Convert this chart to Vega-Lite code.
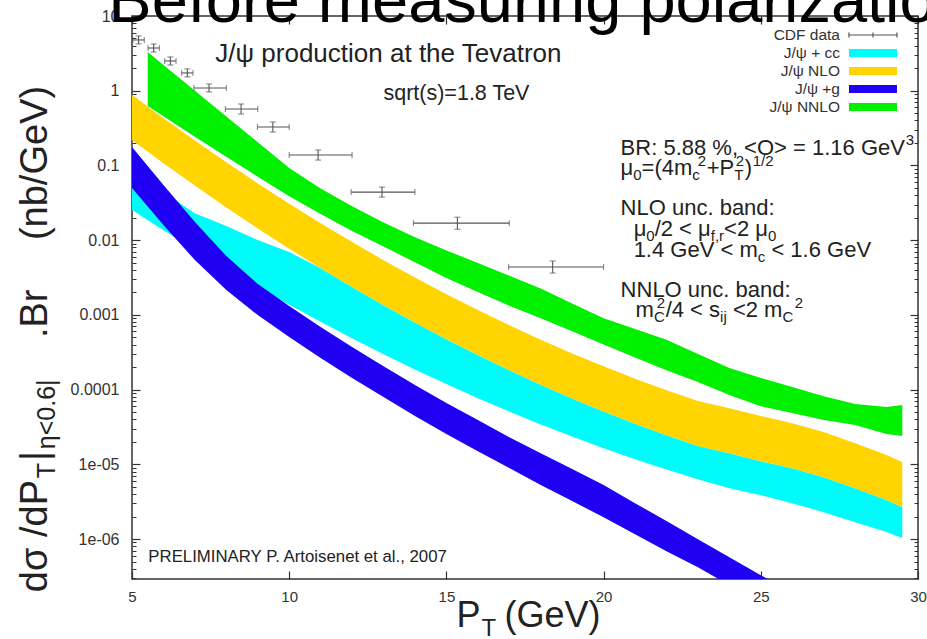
{
  "$schema": "https://vega.github.io/schema/vega-lite/v6.json",
  "width": 786,
  "height": 563,
  "autosize": {"type": "none"},
  "padding": {"left": 132, "top": 16, "right": 9, "bottom": 60},
  "background": "white",
  "config": {
    "view": {"stroke": "#333333", "strokeWidth": 1.5},
    "font": "Liberation Sans",
    "axis": {"grid": false, "domain": false, "title": null, "labelFont": "Liberation Sans", "labelColor": "#333333", "labelFontSize": 15, "tickColor": "#333333", "tickWidth": 1.2, "labelFlush": false, "labelOverlap": false, "labelBound": false}
  },
  "datasets": {
    "bands": [
      {"s": "J/ψ + cc", "pt": 5, "hi": 0.0816, "lo": 0.0253},
      {"s": "J/ψ + cc", "pt": 6, "hi": 0.04405, "lo": 0.0136},
      {"s": "J/ψ + cc", "pt": 7, "hi": 0.02298, "lo": 0.00744},
      {"s": "J/ψ + cc", "pt": 8, "hi": 0.01544, "lo": 0.00414},
      {"s": "J/ψ + cc", "pt": 9, "hi": 0.01003, "lo": 0.00236},
      {"s": "J/ψ + cc", "pt": 10, "hi": 0.00693, "lo": 0.00137},
      {"s": "J/ψ + cc", "pt": 10.5, "hi": 0.005415, "lo": 0.00105},
      {"s": "J/ψ + cc", "pt": 11, "hi": 0.0042, "lo": 0.000808},
      {"s": "J/ψ + cc", "pt": 12, "hi": 0.002356, "lo": 0.000486},
      {"s": "J/ψ + cc", "pt": 13, "hi": 0.00135, "lo": 0.000298},
      {"s": "J/ψ + cc", "pt": 14, "hi": 0.000789, "lo": 0.000186},
      {"s": "J/ψ + cc", "pt": 15, "hi": 0.000472, "lo": 0.000119},
      {"s": "J/ψ + cc", "pt": 16, "hi": 0.00029, "lo": 0.0000769},
      {"s": "J/ψ + cc", "pt": 17, "hi": 0.000181, "lo": 0.0000509},
      {"s": "J/ψ + cc", "pt": 18, "hi": 0.000116, "lo": 0.0000342},
      {"s": "J/ψ + cc", "pt": 19, "hi": 0.0000762, "lo": 0.0000235},
      {"s": "J/ψ + cc", "pt": 20, "hi": 0.0000511, "lo": 0.0000164},
      {"s": "J/ψ + cc", "pt": 21, "hi": 0.000035, "lo": 0.0000117},
      {"s": "J/ψ + cc", "pt": 22, "hi": 0.0000245, "lo": 0.00000852},
      {"s": "J/ψ + cc", "pt": 23, "hi": 0.0000176, "lo": 0.0000063},
      {"s": "J/ψ + cc", "pt": 24, "hi": 0.0000141, "lo": 0.0000048},
      {"s": "J/ψ + cc", "pt": 25, "hi": 0.000011, "lo": 0.00000387},
      {"s": "J/ψ + cc", "pt": 26, "hi": 0.00000889, "lo": 0.00000302},
      {"s": "J/ψ + cc", "pt": 27, "hi": 0.00000674, "lo": 0.00000229},
      {"s": "J/ψ + cc", "pt": 28, "hi": 0.0000048, "lo": 0.00000168},
      {"s": "J/ψ + cc", "pt": 29, "hi": 0.00000332, "lo": 0.00000124},
      {"s": "J/ψ + cc", "pt": 29.5, "hi": 0.00000267, "lo": 0.00000103},
      {"s": "J/ψ +g", "pt": 5, "hi": 0.176, "lo": 0.0498},
      {"s": "J/ψ +g", "pt": 6, "hi": 0.0547, "lo": 0.01592},
      {"s": "J/ψ +g", "pt": 7, "hi": 0.01747, "lo": 0.005415},
      {"s": "J/ψ +g", "pt": 8, "hi": 0.00612, "lo": 0.002148},
      {"s": "J/ψ +g", "pt": 9, "hi": 0.002584, "lo": 0.000994},
      {"s": "J/ψ +g", "pt": 10, "hi": 0.001311, "lo": 0.000504},
      {"s": "J/ψ +g", "pt": 11, "hi": 0.000687, "lo": 0.000264},
      {"s": "J/ψ +g", "pt": 12, "hi": 0.000371, "lo": 0.000143},
      {"s": "J/ψ +g", "pt": 13, "hi": 0.000206, "lo": 0.0000794},
      {"s": "J/ψ +g", "pt": 14, "hi": 0.000115, "lo": 0.0000442},
      {"s": "J/ψ +g", "pt": 15, "hi": 0.000066, "lo": 0.0000254},
      {"s": "J/ψ +g", "pt": 16, "hi": 0.0000391, "lo": 0.000015},
      {"s": "J/ψ +g", "pt": 17, "hi": 0.0000231, "lo": 0.0000089},
      {"s": "J/ψ +g", "pt": 18, "hi": 0.0000141, "lo": 0.00000527},
      {"s": "J/ψ +g", "pt": 19, "hi": 0.00000863, "lo": 0.00000322},
      {"s": "J/ψ +g", "pt": 20, "hi": 0.00000527, "lo": 0.00000196},
      {"s": "J/ψ +g", "pt": 21, "hi": 0.00000302, "lo": 0.00000116},
      {"s": "J/ψ +g", "pt": 22, "hi": 0.00000174, "lo": 0.000000689},
      {"s": "J/ψ +g", "pt": 23, "hi": 0.000000997, "lo": 0.000000421},
      {"s": "J/ψ +g", "pt": 24, "hi": 0.000000572, "lo": 0.000000241},
      {"s": "J/ψ +g", "pt": 25, "hi": 0.000000329, "lo": 0.000000139},
      {"s": "J/ψ +g", "pt": 25.5, "hi": 0.000000249, "lo": 0.000000105},
      {"s": "J/ψ NLO", "pt": 5, "hi": 0.876, "lo": 0.219},
      {"s": "J/ψ NLO", "pt": 6, "hi": 0.428, "lo": 0.107},
      {"s": "J/ψ NLO", "pt": 7, "hi": 0.215, "lo": 0.0537},
      {"s": "J/ψ NLO", "pt": 8, "hi": 0.11, "lo": 0.0274},
      {"s": "J/ψ NLO", "pt": 9, "hi": 0.0574, "lo": 0.01434},
      {"s": "J/ψ NLO", "pt": 10, "hi": 0.0307, "lo": 0.00767},
      {"s": "J/ψ NLO", "pt": 11, "hi": 0.0168, "lo": 0.0042},
      {"s": "J/ψ NLO", "pt": 12, "hi": 0.00943, "lo": 0.002356},
      {"s": "J/ψ NLO", "pt": 13, "hi": 0.0054, "lo": 0.00135},
      {"s": "J/ψ NLO", "pt": 14, "hi": 0.00316, "lo": 0.000789},
      {"s": "J/ψ NLO", "pt": 15, "hi": 0.00189, "lo": 0.000472},
      {"s": "J/ψ NLO", "pt": 16, "hi": 0.00116, "lo": 0.00029},
      {"s": "J/ψ NLO", "pt": 17, "hi": 0.000726, "lo": 0.000181},
      {"s": "J/ψ NLO", "pt": 18, "hi": 0.000464, "lo": 0.000116},
      {"s": "J/ψ NLO", "pt": 19, "hi": 0.000305, "lo": 0.0000762},
      {"s": "J/ψ NLO", "pt": 20, "hi": 0.000205, "lo": 0.0000511},
      {"s": "J/ψ NLO", "pt": 21, "hi": 0.00014, "lo": 0.000035},
      {"s": "J/ψ NLO", "pt": 22, "hi": 0.0000982, "lo": 0.0000245},
      {"s": "J/ψ NLO", "pt": 23, "hi": 0.0000706, "lo": 0.0000176},
      {"s": "J/ψ NLO", "pt": 24, "hi": 0.0000565, "lo": 0.0000141},
      {"s": "J/ψ NLO", "pt": 25, "hi": 0.0000442, "lo": 0.000011},
      {"s": "J/ψ NLO", "pt": 26, "hi": 0.0000356, "lo": 0.00000889},
      {"s": "J/ψ NLO", "pt": 27, "hi": 0.000027, "lo": 0.00000674},
      {"s": "J/ψ NLO", "pt": 28, "hi": 0.0000192, "lo": 0.0000048},
      {"s": "J/ψ NLO", "pt": 29, "hi": 0.0000133, "lo": 0.00000332},
      {"s": "J/ψ NLO", "pt": 29.5, "hi": 0.0000107, "lo": 0.00000267},
      {"s": "J/ψ NNLO", "pt": 5.5, "hi": 3.3, "lo": 0.624},
      {"s": "J/ψ NNLO", "pt": 6, "hi": 2.215, "lo": 0.454},
      {"s": "J/ψ NNLO", "pt": 7, "hi": 1.003, "lo": 0.243},
      {"s": "J/ψ NNLO", "pt": 8, "hi": 0.453, "lo": 0.131},
      {"s": "J/ψ NNLO", "pt": 9, "hi": 0.2045, "lo": 0.0706},
      {"s": "J/ψ NNLO", "pt": 10, "hi": 0.0923, "lo": 0.0387},
      {"s": "J/ψ NNLO", "pt": 11, "hi": 0.0491, "lo": 0.0224},
      {"s": "J/ψ NNLO", "pt": 12, "hi": 0.02835, "lo": 0.0133},
      {"s": "J/ψ NNLO", "pt": 13, "hi": 0.0172, "lo": 0.00821},
      {"s": "J/ψ NNLO", "pt": 14, "hi": 0.0109, "lo": 0.00506},
      {"s": "J/ψ NNLO", "pt": 15, "hi": 0.0073, "lo": 0.00311},
      {"s": "J/ψ NNLO", "pt": 16, "hi": 0.00495, "lo": 0.00202},
      {"s": "J/ψ NNLO", "pt": 17, "hi": 0.00335, "lo": 0.00133},
      {"s": "J/ψ NNLO", "pt": 18, "hi": 0.00225, "lo": 0.000903},
      {"s": "J/ψ NNLO", "pt": 19, "hi": 0.00142, "lo": 0.000605},
      {"s": "J/ψ NNLO", "pt": 20, "hi": 0.000903, "lo": 0.000403},
      {"s": "J/ψ NNLO", "pt": 21, "hi": 0.000647, "lo": 0.000268},
      {"s": "J/ψ NNLO", "pt": 22, "hi": 0.000464, "lo": 0.000182},
      {"s": "J/ψ NNLO", "pt": 23, "hi": 0.000299, "lo": 0.000126},
      {"s": "J/ψ NNLO", "pt": 24, "hi": 0.000194, "lo": 0.0000844},
      {"s": "J/ψ NNLO", "pt": 25, "hi": 0.000143, "lo": 0.0000601},
      {"s": "J/ψ NNLO", "pt": 26, "hi": 0.000108, "lo": 0.0000485},
      {"s": "J/ψ NNLO", "pt": 27, "hi": 0.0000818, "lo": 0.0000391},
      {"s": "J/ψ NNLO", "pt": 28, "hi": 0.000064, "lo": 0.0000335},
      {"s": "J/ψ NNLO", "pt": 29, "hi": 0.0000583, "lo": 0.0000254},
      {"s": "J/ψ NNLO", "pt": 29.5, "hi": 0.000062, "lo": 0.0000239}
    ],
    "cdf": [
      {"pt": 5.21, "v": 4.78, "xlo": 5.03, "xhi": 5.39, "ylo": 4.23, "yhi": 5.41},
      {"pt": 5.69, "v": 3.73, "xlo": 5.51, "xhi": 5.87, "ylo": 3.3, "yhi": 4.22},
      {"pt": 6.22, "v": 2.5, "xlo": 6.04, "xhi": 6.4, "ylo": 2.21, "yhi": 2.83},
      {"pt": 6.76, "v": 1.73, "xlo": 6.58, "xhi": 6.94, "ylo": 1.53, "yhi": 1.96},
      {"pt": 7.45, "v": 1.09, "xlo": 6.97, "xhi": 8.0, "ylo": 0.964, "yhi": 1.233},
      {"pt": 8.47, "v": 0.569, "xlo": 7.97, "xhi": 9.0, "ylo": 0.488, "yhi": 0.664},
      {"pt": 9.48, "v": 0.327, "xlo": 8.99, "xhi": 10.0, "ylo": 0.28, "yhi": 0.382},
      {"pt": 10.92, "v": 0.138, "xlo": 10.0, "xhi": 12.0, "ylo": 0.118, "yhi": 0.161},
      {"pt": 12.95, "v": 0.044, "xlo": 11.97, "xhi": 14.0, "ylo": 0.0377, "yhi": 0.0513},
      {"pt": 15.35, "v": 0.0169, "xlo": 13.95, "xhi": 17.0, "ylo": 0.014, "yhi": 0.0203},
      {"pt": 18.38, "v": 0.00437, "xlo": 16.98, "xhi": 20.0, "ylo": 0.00363, "yhi": 0.00526}
    ],
    "notes": [
      {"g": "slide", "x": 4.246, "y": 8.31, "t": "Before measuring polarization"},
      {"g": "head", "x": 7.651, "y": 2.42, "t": "J/ψ production at the Tevatron"},
      {"g": "energy", "x": 12.998, "y": 0.751, "t": "sqrt(s)=1.8 TeV"},
      {"g": "note", "x": 20.541, "y": 0.1378, "t": "BR: 5.88 %, <O> = 1.16 GeV"},
      {"g": "small", "x": 29.612, "y": 0.1875, "t": "3"},
      {"g": "note", "x": 20.541, "y": 0.0744, "t": "μ"},
      {"g": "small", "x": 20.945, "y": 0.0638, "t": "0"},
      {"g": "note", "x": 21.209, "y": 0.0744, "t": "=(4m"},
      {"g": "small", "x": 22.823, "y": 0.0638, "t": "c"},
      {"g": "small", "x": 22.992, "y": 0.0982, "t": "2"},
      {"g": "note", "x": 23.278, "y": 0.0744, "t": "+P"},
      {"g": "small", "x": 24.153, "y": 0.0638, "t": "T"},
      {"g": "small", "x": 24.201, "y": 0.0982, "t": "2"},
      {"g": "note", "x": 24.487, "y": 0.0744, "t": ")"},
      {"g": "small", "x": 24.742, "y": 0.0982, "t": "1/2"},
      {"g": "note", "x": 20.541, "y": 0.02168, "t": "NLO unc. band:"},
      {"g": "note", "x": 20.955, "y": 0.01135, "t": "μ"},
      {"g": "small", "x": 21.359, "y": 0.00973, "t": "0"},
      {"g": "note", "x": 21.623, "y": 0.01135, "t": "/2 < μ"},
      {"g": "small", "x": 23.409, "y": 0.00973, "t": "f,r"},
      {"g": "note", "x": 23.832, "y": 0.01135, "t": "<2 μ"},
      {"g": "small", "x": 25.229, "y": 0.00973, "t": "0"},
      {"g": "note", "x": 20.955, "y": 0.005939, "t": "1.4 GeV < m"},
      {"g": "small", "x": 24.904, "y": 0.005089, "t": "c"},
      {"g": "note", "x": 25.337, "y": 0.005939, "t": "< 1.6 GeV"},
      {"g": "note", "x": 20.541, "y": 0.001734, "t": "NNLO unc. band:"},
      {"g": "note", "x": 21.018, "y": 0.000936, "t": "m"},
      {"g": "small", "x": 21.601, "y": 0.000802, "t": "C"},
      {"g": "small", "x": 21.687, "y": 0.001235, "t": "2"},
      {"g": "note", "x": 21.974, "y": 0.000936, "t": "/4 < s"},
      {"g": "small", "x": 23.705, "y": 0.000802, "t": "ij"},
      {"g": "note", "x": 24.112, "y": 0.000936, "t": "<2 m"},
      {"g": "small", "x": 25.687, "y": 0.000802, "t": "C"},
      {"g": "small", "x": 26.079, "y": 0.001235, "t": "2"},
      {"g": "prelim", "x": 5.519, "y": 0.000000491, "t": "PRELIMINARY P. Artoisenet et al., 2007"},
      {"g": "xt", "x": 15.322, "y": 0.0000000662, "t": "P"},
      {"g": "xts", "x": 16.117, "y": 0.0000000501, "t": "T"},
      {"g": "xt", "x": 16.849, "y": 0.0000000662, "t": "(GeV)"},
      {"g": "yt", "x": 2.288, "y": 0.0000001946, "t": "dσ /dP"},
      {"g": "yts", "x": 2.559, "y": 0.000006536, "t": "T"},
      {"g": "yt", "x": 2.288, "y": 0.00001104, "t": "|"},
      {"g": "yts", "x": 2.559, "y": 0.00001597, "t": "η<0.6|"},
      {"g": "yt", "x": 2.288, "y": 0.0004891, "t": ".Br"},
      {"g": "yt", "x": 2.288, "y": 0.01003, "t": "(nb/GeV)"}
    ]
  },
  "layer": [
    {
      "data": {"name": "bands"},
      "transform": [{"filter": "datum.s === 'J/ψ + cc'"}],
      "mark": {"type": "area", "clip": true},
      "encoding": {
        "x": {"field": "pt", "type": "quantitative", "scale": {"domain": [5, 30], "nice": false, "zero": false}, "axis": {"orient": "bottom", "values": [5, 10, 15, 20, 25, 30], "ticks": false, "labelPadding": 10}},
        "y": {"field": "hi", "type": "quantitative", "scale": {"type": "log", "domain": [2.92e-7, 10], "nice": false}, "axis": {"orient": "left", "values": [0.000001, 0.00001, 0.0001, 0.001, 0.01, 0.1, 1, 10], "ticks": false, "labelPadding": 13, "labelFontSize": 16, "labelExpr": "datum.value < 3e-6 ? '1e-06' : datum.value < 3e-5 ? '1e-05' : datum.value < 3e-4 ? '0.0001' : datum.value < 3e-3 ? '0.001' : datum.value < 0.03 ? '0.01' : datum.value < 0.3 ? '0.1' : datum.value < 3 ? '1' : '10'"}},
        "y2": {"field": "lo"},
        "color": {
          "field": "s", "type": "nominal",
          "scale": {"domain": ["CDF data", "J/ψ + cc", "J/ψ NLO", "J/ψ +g", "J/ψ NNLO"], "range": ["#555555", "#00fbfb", "#ffd400", "#2000f2", "#00f000"]},
          "legend": {
            "orient": "none", "legendX": 732, "legendY": 10, "title": null, "padding": 0,
            "symbolSize": 256, "symbolStrokeWidth": 1.2, "labelAlign": "right", "labelOffset": -42,
            "labelFontSize": 15.5, "labelFont": "Liberation Sans", "labelColor": "#333333", "rowPadding": 0, "labelLimit": 400,
            "encode": {"symbols": {"update": {
              "shape": {"signal": "datum.value === 'CDF data' ? 'M-3,0H3M-3,-0.3V0.3M3,-0.3V0.3M0,-0.3V0.3' : 'M-3,-0.5H3V0.5H-3Z'"},
              "fill": {"signal": "datum.value === 'CDF data' ? 'transparent' : scale('color', datum.value)"},
              "stroke": {"signal": "datum.value === 'CDF data' ? '#555555' : 'transparent'"},
              "strokeWidth": {"value": 1.2},
              "opacity": {"value": 1}
            }}}
          }
        }
      }
    },
    {
      "data": {"name": "bands"},
      "transform": [{"filter": "datum.s === 'J/ψ +g'"}],
      "mark": {"type": "area", "clip": true},
      "encoding": {
        "x": {"field": "pt", "type": "quantitative", "scale": {"domain": [5, 30], "nice": false, "zero": false}, "axis": null},
        "y": {"field": "hi", "type": "quantitative", "scale": {"type": "log", "domain": [2.92e-7, 10], "nice": false}, "axis": null},
        "y2": {"field": "lo"},
        "color": {"field": "s", "type": "nominal", "legend": null}
      }
    },
    {
      "data": {"name": "bands"},
      "transform": [{"filter": "datum.s === 'J/ψ NLO'"}],
      "mark": {"type": "area", "clip": true},
      "encoding": {
        "x": {"field": "pt", "type": "quantitative", "scale": {"domain": [5, 30], "nice": false, "zero": false}, "axis": null},
        "y": {"field": "hi", "type": "quantitative", "scale": {"type": "log", "domain": [2.92e-7, 10], "nice": false}, "axis": null},
        "y2": {"field": "lo"},
        "color": {"field": "s", "type": "nominal", "legend": null}
      }
    },
    {
      "data": {"name": "bands"},
      "transform": [{"filter": "datum.s === 'J/ψ NNLO'"}],
      "mark": {"type": "area", "clip": true},
      "encoding": {
        "x": {"field": "pt", "type": "quantitative", "scale": {"domain": [5, 30], "nice": false, "zero": false}, "axis": null},
        "y": {"field": "hi", "type": "quantitative", "scale": {"type": "log", "domain": [2.92e-7, 10], "nice": false}, "axis": null},
        "y2": {"field": "lo"},
        "color": {"field": "s", "type": "nominal", "legend": null}
      }
    },
    {
      "data": {"name": "cdf"},
      "mark": {"type": "rule", "color": "#555555", "strokeWidth": 1.1},
      "encoding": {
        "x": {"field": "xlo", "type": "quantitative", "scale": {"domain": [5, 30], "nice": false, "zero": false}, "axis": {"orient": "bottom", "values": [5, 10, 15, 20, 25, 30], "labels": false, "tickSize": -8}},
        "x2": {"field": "xhi"},
        "y": {"field": "v", "type": "quantitative", "scale": {"type": "log", "domain": [2.92e-7, 10], "nice": false}, "axis": {"orient": "left", "values": [0.000001, 0.00001, 0.0001, 0.001, 0.01, 0.1, 1, 10], "labels": false, "tickSize": -8}}
      }
    },
    {
      "data": {"name": "cdf"},
      "mark": {"type": "rule", "color": "#555555", "strokeWidth": 1.1},
      "encoding": {
        "x": {"field": "pt", "type": "quantitative", "scale": {"domain": [5, 30], "nice": false, "zero": false}, "axis": {"orient": "top", "values": [5, 10, 15, 20, 25, 30], "labels": false, "tickSize": -8}},
        "y": {"field": "ylo", "type": "quantitative", "scale": {"type": "log", "domain": [2.92e-7, 10], "nice": false}, "axis": {"orient": "right", "values": [0.000001, 0.00001, 0.0001, 0.001, 0.01, 0.1, 1, 10], "labels": false, "tickSize": -8}},
        "y2": {"field": "yhi"}
      }
    },
    {
      "data": {"name": "cdf"},
      "transform": [{"fold": ["ylo", "yhi"], "as": ["k", "yy"]}],
      "mark": {"type": "tick", "orient": "horizontal", "color": "#555555", "size": 6, "thickness": 1.1},
      "encoding": {
        "x": {"field": "pt", "type": "quantitative", "scale": {"domain": [5, 30], "nice": false, "zero": false}, "axis": null},
        "y": {"field": "yy", "type": "quantitative", "scale": {"type": "log", "domain": [2.92e-7, 10], "nice": false}, "axis": {"orient": "left", "labels": false, "tickSize": -4, "tickWidth": 1, "values": [3e-7, 4e-7, 5e-7, 6e-7, 7e-7, 8e-7, 9e-7, 2e-6, 3e-6, 4e-6, 5e-6, 6e-6, 7e-6, 8e-6, 9e-6, 2e-5, 3e-5, 4e-5, 5e-5, 6e-5, 7e-5, 8e-5, 9e-5, 0.0002, 0.0003, 0.0004, 0.0005, 0.0006, 0.0007, 0.0008, 0.0009, 0.002, 0.003, 0.004, 0.005, 0.006, 0.007, 0.008, 0.009, 0.02, 0.03, 0.04, 0.05, 0.06, 0.07, 0.08, 0.09, 0.2, 0.3, 0.4, 0.5, 0.6, 0.7, 0.8, 0.9, 2, 3, 4, 5, 6, 7, 8, 9]}}
      }
    },
    {
      "data": {"name": "cdf"},
      "transform": [{"fold": ["xlo", "xhi"], "as": ["k", "xx"]}],
      "mark": {"type": "tick", "orient": "vertical", "color": "#555555", "size": 6, "thickness": 1.1},
      "encoding": {
        "x": {"field": "xx", "type": "quantitative", "scale": {"domain": [5, 30], "nice": false, "zero": false}, "axis": null},
        "y": {"field": "v", "type": "quantitative", "scale": {"type": "log", "domain": [2.92e-7, 10], "nice": false}, "axis": {"orient": "right", "labels": false, "tickSize": -4, "tickWidth": 1, "values": [3e-7, 4e-7, 5e-7, 6e-7, 7e-7, 8e-7, 9e-7, 2e-6, 3e-6, 4e-6, 5e-6, 6e-6, 7e-6, 8e-6, 9e-6, 2e-5, 3e-5, 4e-5, 5e-5, 6e-5, 7e-5, 8e-5, 9e-5, 0.0002, 0.0003, 0.0004, 0.0005, 0.0006, 0.0007, 0.0008, 0.0009, 0.002, 0.003, 0.004, 0.005, 0.006, 0.007, 0.008, 0.009, 0.02, 0.03, 0.04, 0.05, 0.06, 0.07, 0.08, 0.09, 0.2, 0.3, 0.4, 0.5, 0.6, 0.7, 0.8, 0.9, 2, 3, 4, 5, 6, 7, 8, 9]}}
      }
    },
    {
      "data": {"name": "notes"},
      "transform": [{"filter": "datum.g === 'slide'"}],
      "mark": {"type": "text", "align": "left", "baseline": "alphabetic", "fontSize": 65, "color": "#000000"},
      "encoding": {"x": {"field": "x", "type": "quantitative", "axis": null}, "y": {"field": "y", "type": "quantitative", "axis": null}, "text": {"field": "t"}}
    },
    {
      "data": {"name": "notes"},
      "transform": [{"filter": "datum.g === 'head'"}],
      "mark": {"type": "text", "align": "left", "baseline": "alphabetic", "fontSize": 26, "color": "#222222"},
      "encoding": {"x": {"field": "x", "type": "quantitative", "axis": null}, "y": {"field": "y", "type": "quantitative", "axis": null}, "text": {"field": "t"}}
    },
    {
      "data": {"name": "notes"},
      "transform": [{"filter": "datum.g === 'energy'"}],
      "mark": {"type": "text", "align": "left", "baseline": "alphabetic", "fontSize": 21.5, "color": "#222222"},
      "encoding": {"x": {"field": "x", "type": "quantitative", "axis": null}, "y": {"field": "y", "type": "quantitative", "axis": null}, "text": {"field": "t"}}
    },
    {
      "data": {"name": "notes"},
      "transform": [{"filter": "datum.g === 'note'"}],
      "mark": {"type": "text", "align": "left", "baseline": "alphabetic", "fontSize": 22, "color": "#222222"},
      "encoding": {"x": {"field": "x", "type": "quantitative", "axis": null}, "y": {"field": "y", "type": "quantitative", "axis": null}, "text": {"field": "t"}}
    },
    {
      "data": {"name": "notes"},
      "transform": [{"filter": "datum.g === 'small'"}],
      "mark": {"type": "text", "align": "left", "baseline": "alphabetic", "fontSize": 15, "color": "#222222"},
      "encoding": {"x": {"field": "x", "type": "quantitative", "axis": null}, "y": {"field": "y", "type": "quantitative", "axis": null}, "text": {"field": "t"}}
    },
    {
      "data": {"name": "notes"},
      "transform": [{"filter": "datum.g === 'prelim'"}],
      "mark": {"type": "text", "align": "left", "baseline": "alphabetic", "fontSize": 16.8, "color": "#222222"},
      "encoding": {"x": {"field": "x", "type": "quantitative", "axis": null}, "y": {"field": "y", "type": "quantitative", "axis": null}, "text": {"field": "t"}}
    },
    {
      "data": {"name": "notes"},
      "transform": [{"filter": "datum.g === 'xt'"}],
      "mark": {"type": "text", "align": "left", "baseline": "alphabetic", "fontSize": 36, "color": "#222222"},
      "encoding": {"x": {"field": "x", "type": "quantitative", "axis": null}, "y": {"field": "y", "type": "quantitative", "axis": null}, "text": {"field": "t"}}
    },
    {
      "data": {"name": "notes"},
      "transform": [{"filter": "datum.g === 'xts'"}],
      "mark": {"type": "text", "align": "left", "baseline": "alphabetic", "fontSize": 24, "color": "#222222"},
      "encoding": {"x": {"field": "x", "type": "quantitative", "axis": null}, "y": {"field": "y", "type": "quantitative", "axis": null}, "text": {"field": "t"}}
    },
    {
      "data": {"name": "notes"},
      "transform": [{"filter": "datum.g === 'yt'"}],
      "mark": {"type": "text", "align": "left", "baseline": "alphabetic", "angle": 270, "fontSize": 38, "color": "#222222"},
      "encoding": {"x": {"field": "x", "type": "quantitative", "axis": null}, "y": {"field": "y", "type": "quantitative", "axis": null}, "text": {"field": "t"}}
    },
    {
      "data": {"name": "notes"},
      "transform": [{"filter": "datum.g === 'yts'"}],
      "mark": {"type": "text", "align": "left", "baseline": "alphabetic", "angle": 270, "fontSize": 25, "color": "#222222"},
      "encoding": {"x": {"field": "x", "type": "quantitative", "axis": null}, "y": {"field": "y", "type": "quantitative", "axis": null}, "text": {"field": "t"}}
    }
  ],
  "resolve": {"axis": {"x": "independent", "y": "independent"}}
}
